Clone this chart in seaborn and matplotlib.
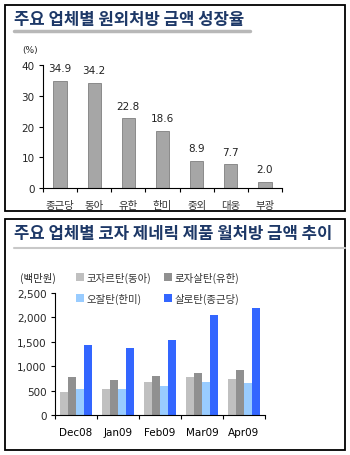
import matplotlib
matplotlib.use('Agg')
import matplotlib.pyplot as plt
import matplotlib.patches as mpatches
import pandas as pd
import seaborn as sns

companies = ['종근당', '동아', '유한', '한미', '중외', '대웅', '부광']
growth = [34.9, 34.2, 22.8, 18.6, 8.9, 7.7, 2.0]

months = ['Dec08', 'Jan09', 'Feb09', 'Mar09', 'Apr09']
products = ['코자르탄(동아)', '로자살탄(유한)', '오잘탄(한미)', '살로탄(종근당)']
kozartan = [470, 530, 680, 780, 740]
rozasaltan = [780, 720, 800, 855, 915]
ozaltan = [540, 540, 600, 680, 650]
salotan = [1440, 1380, 1540, 2055, 2190]

sns.set_theme(style='white')
plt.rcParams['font.family'] = ['Noto Sans CJK KR', 'DejaVu Sans']

W, H = 350, 456
fig = plt.figure(figsize=(W / 100, H / 100), dpi=100)

def box(x0, y0, x1, y1):
    fig.patches.append(mpatches.Rectangle((x0 / W, 1 - y1 / H), (x1 - x0) / W, (y1 - y0) / H,
                                          transform=fig.transFigure, fill=False,
                                          edgecolor='black', linewidth=1.3))

def bar_line(x0, x1, y, lw, color):
    fig.add_artist(plt.Line2D([x0 / W, x1 / W], [1 - y / H, 1 - y / H],
                              transform=fig.transFigure, color=color, linewidth=lw))

def style_axis(ax, n, pad):
    ax.set_xlim(-0.5, n - 0.5)
    ax.set_xlabel('')
    ax.set_ylabel('')
    ax.set_xticks([i - 0.5 for i in range(n + 1)], minor=True)
    ax.tick_params(axis='x', which='major', length=0, labelsize=7.5, pad=pad, labelcolor='#333333')
    ax.tick_params(axis='x', which='minor', length=3, width=0.8, color='black',
                   direction='out', bottom=True)
    ax.tick_params(axis='y', length=3, width=0.8, color='black', direction='out',
                   left=True, labelsize=7.5, pad=3)
    for lab in ax.get_yticklabels():
        lab.set_fontfamily('DejaVu Sans')
    for s in ['top', 'right']:
        ax.spines[s].set_visible(False)
    for s in ['left', 'bottom']:
        ax.spines[s].set_color('black')
        ax.spines[s].set_linewidth(0.8)

title_color = '#1d3867'

# top panel
box(5, 6, 345, 212)
fig.text(14 / W, 1 - 20 / H, '주요 업체별 원외처방 금액 성장율', fontsize=12, fontweight='bold',
         color=title_color, va='center', ha='left')
bar_line(14, 250, 31.5, 2.5, '#b8b8b8')

ax1 = fig.add_axes([43 / W, 1 - 189 / H, (282 - 43) / W, (189 - 66) / H])
df1 = pd.DataFrame({'company': companies, 'growth': growth})
sns.barplot(data=df1, x='company', y='growth', ax=ax1, color='#a6a6a6',
            edgecolor='#7f7f7f', linewidth=0.6, width=0.39, saturation=1)
for i, v in enumerate(growth):
    ax1.text(i, v + 2.4, f'{v:.1f}', ha='center', va='bottom', fontsize=7.5,
             color='#222222', family='DejaVu Sans')
ax1.set_ylim(0, 40)
ax1.set_yticks([0, 10, 20, 30, 40])
style_axis(ax1, len(companies), 9)
fig.text(22 / W, 1 - 50 / H, '(%)', fontsize=6.5, ha='left', va='center', family='DejaVu Sans')

# bottom panel
box(5, 220, 345, 451)
fig.text(14 / W, 1 - 234 / H, '주요 업체별 코자 제네릭 제품 월처방 금액 추이', fontsize=12,
         fontweight='bold', color=title_color, va='center', ha='left')
bar_line(14, 345, 249, 1.5, '#c8c8c8')

df2 = pd.DataFrame({
    'month': months * 4,
    'product': [p for p in products for _ in months],
    'value': kozartan + rozasaltan + ozaltan + salotan,
})
palette = ['#c0c0c0', '#909090', '#99ccff', '#3366ff']
ax2 = fig.add_axes([55 / W, 1 - 416 / H, (265 - 55) / W, (416 - 294) / H])
sns.barplot(data=df2, x='month', y='value', hue='product', hue_order=products, ax=ax2,
            palette=palette, width=0.76, saturation=1, linewidth=0)
ax2.set_ylim(0, 2500)
ax2.set_yticks([0, 500, 1000, 1500, 2000, 2500])
ax2.set_yticklabels(['0', '500', '1,000', '1,500', '2,000', '2,500'])
style_axis(ax2, len(months), 9)
for lab in ax2.get_xticklabels():
    lab.set_fontfamily('DejaVu Sans')
    lab.set_color('black')

handles, labels = ax2.get_legend_handles_labels()
ax2.get_legend().remove()
order = [0, 2, 1, 3]
leg = fig.legend([handles[i] for i in order], [labels[i] for i in order], ncol=2,
                 loc='upper left', bbox_to_anchor=(76 / W, 1 - 273 / H), frameon=False,
                 fontsize=7.5, handlelength=0.8, handleheight=0.8, handletextpad=0.2,
                 columnspacing=1.2, labelspacing=0.95, borderaxespad=0, borderpad=0)
for t in leg.get_texts():
    t.set_color('#333333')
fig.text(20 / W, 1 - 278 / H, '(백만원)', fontsize=7.5, ha='left', va='center')

fig.savefig('out.png', dpi=100)
